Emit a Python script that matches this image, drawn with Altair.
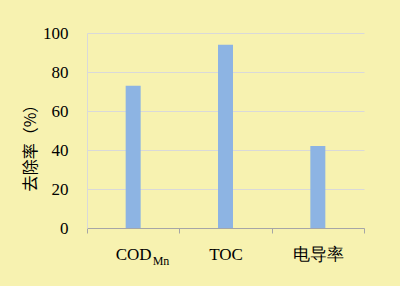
import altair as alt
import pandas as pd

categories = ["COD_Mn", "TOC", "电导率"]
removal = [73, 94, 42]
y_ticks = [0, 20, 40, 60, 80, 100]
subscript_item = ["COD_Mn"]
subscript_text = ["Mn"]

df = pd.DataFrame({"item": categories, "rate": removal})
sub_df = pd.DataFrame({"item": subscript_item, "t": subscript_text})

SERIF = "Liberation Serif"

x_enc = alt.X(
    "item:N", sort=categories, title=None,
    scale=alt.Scale(paddingInner=0, paddingOuter=0),
    axis=alt.Axis(
        labelExpr="datum.label == 'COD_Mn' ? 'COD' : datum.label",
        tickBand="extent", labelAngle=0, grid=False,
        domainColor="#A6A6A6", tickColor="#A6A6A6", tickSize=5,
        labelPadding=13, labelFont=SERIF, labelFontSize=17, labelColor="#000000",
    ),
)

bars = alt.Chart(df).mark_bar(size=15, color="#8DB4E3").encode(
    x=x_enc,
    y=alt.Y(
        "rate:Q",
        scale=alt.Scale(domain=[0, 100]),
        axis=alt.Axis(
            values=y_ticks, ticks=False, labelPadding=19,
            domainColor="#D9D9D9", gridColor="#D9D9D9",
            labelFont=SERIF, labelFontSize=17, labelColor="#000000",
            title="去除率（%）", titleFont="Noto Sans CJK SC", titleFontSize=16,
            titleFontWeight="normal", titleColor="#000000",
            titleX=-57, titleY=110.5, titleAlign="center", titleBaseline="middle",
        ),
    ),
)

sub = alt.Chart(sub_df).mark_text(
    font=SERIF, fontSize=12, align="left", baseline="alphabetic",
    dx=19.5, color="#000000",
).encode(
    x=alt.X("item:N", sort=categories),
    y=alt.value(232),
    text="t:N",
)

chart = alt.layer(bars, sub).properties(
    width=277, height=195,
    background="#F7F2B0",
    padding={"left": 87, "top": 33, "right": 36, "bottom": 58},
    autosize=alt.AutoSizeParams(type="none"),
).configure_view(stroke=None)

chart.save("out.html", embed_options={"renderer": "svg", "actions": False})
